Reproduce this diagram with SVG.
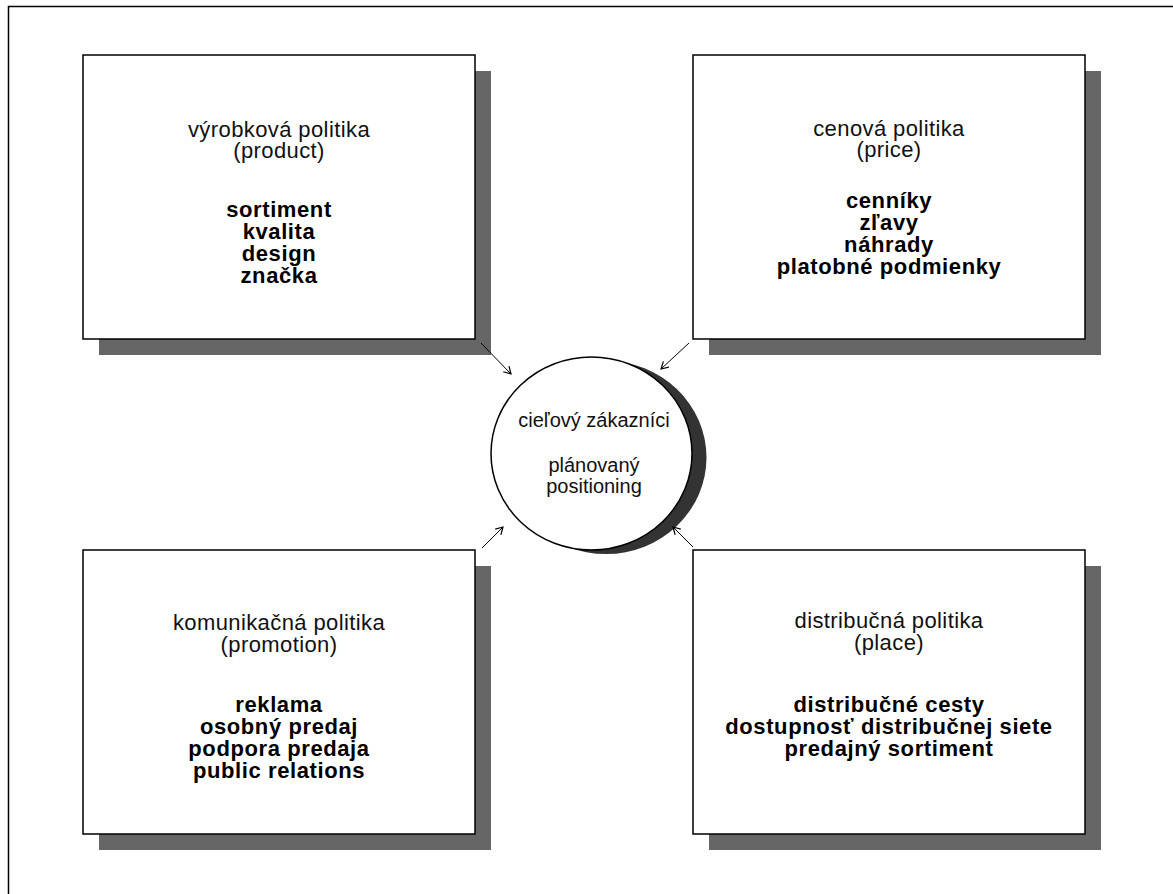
<svg xmlns="http://www.w3.org/2000/svg" width="1173" height="894" viewBox="0 0 1173 894">
<defs>
<style>
.frame{fill:none;stroke:#000;stroke-width:1.5}
.box{fill:#fff;stroke:#000;stroke-width:1.5}
.sh{fill:#666}
.t{font-family:"Liberation Sans",Arial,sans-serif;font-size:22px;letter-spacing:0.4px;fill:#111;text-anchor:middle}
.b{font-family:"Liberation Sans",Arial,sans-serif;font-size:22px;letter-spacing:0.6px;font-weight:bold;fill:#000;text-anchor:middle}
.c{font-family:"Liberation Sans",Arial,sans-serif;font-size:20px;fill:#111;text-anchor:middle}
.conn{stroke:#000;stroke-width:1;fill:none}
</style>
<marker id="ah" markerWidth="12" markerHeight="12" refX="10" refY="6" orient="auto" markerUnits="userSpaceOnUse">
<path d="M3,2 L10,6 L3,10" fill="none" stroke="#000" stroke-width="1.2"/>
</marker>
</defs>
<rect width="1173" height="894" fill="#fff"/>
<rect class="frame" x="8.5" y="6.5" width="1400" height="1000"/>

<g id="product">
<rect class="sh" x="99" y="71" width="392" height="284"/>
<rect class="box" x="83" y="55" width="392" height="284"/>
<text class="t" x="279" y="137">výrobková politika</text>
<text class="t" x="279" y="158">(product)</text>
<text class="b" x="279" y="217">sortiment</text>
<text class="b" x="279" y="239">kvalita</text>
<text class="b" x="279" y="261">design</text>
<text class="b" x="279" y="283">značka</text>
</g>

<g id="price">
<rect class="sh" x="709" y="71" width="392" height="284"/>
<rect class="box" x="693" y="55" width="392" height="284"/>
<text class="t" x="889" y="136">cenová politika</text>
<text class="t" x="889" y="157">(price)</text>
<text class="b" x="889" y="208">cenníky</text>
<text class="b" x="889" y="230">zľavy</text>
<text class="b" x="889" y="252">náhrady</text>
<text class="b" x="889" y="274">platobné podmienky</text>
</g>

<g id="promotion">
<rect class="sh" x="99" y="566" width="392" height="284"/>
<rect class="box" x="83" y="550" width="392" height="284"/>
<text class="t" x="279" y="630">komunikačná politika</text>
<text class="t" x="279" y="652">(promotion)</text>
<text class="b" x="279" y="712">reklama</text>
<text class="b" x="279" y="734">osobný predaj</text>
<text class="b" x="279" y="756">podpora predaja</text>
<text class="b" x="279" y="778">public relations</text>
</g>

<g id="place">
<rect class="sh" x="709" y="566" width="392" height="284"/>
<rect class="box" x="693" y="550" width="392" height="284"/>
<text class="t" x="889" y="628">distribučná politika</text>
<text class="t" x="889" y="650">(place)</text>
<text class="b" x="889" y="712">distribučné cesty</text>
<text class="b" x="889" y="734">dostupnosť distribučnej siete</text>
<text class="b" x="889" y="756">predajný sortiment</text>
</g>

<g id="center">
<ellipse cx="606" cy="457.5" rx="100.5" ry="96.5" fill="#333"/>
<ellipse cx="591.5" cy="453.5" rx="100.5" ry="96.5" fill="#fff" stroke="#000" stroke-width="1.5"/>
<text class="c" x="594" y="427">cieľový zákazníci</text>
<text class="c" x="594" y="472">plánovaný</text>
<text class="c" x="594" y="493">positioning</text>
</g>

<g id="connectors">
<line class="conn" x1="481" y1="343" x2="511" y2="374" marker-end="url(#ah)"/>
<line class="conn" x1="689" y1="343" x2="661" y2="369" marker-end="url(#ah)"/>
<line class="conn" x1="482" y1="548" x2="503" y2="527" marker-end="url(#ah)"/>
<line class="conn" x1="693" y1="547" x2="673" y2="527" marker-end="url(#ah)"/>
</g>
</svg>
